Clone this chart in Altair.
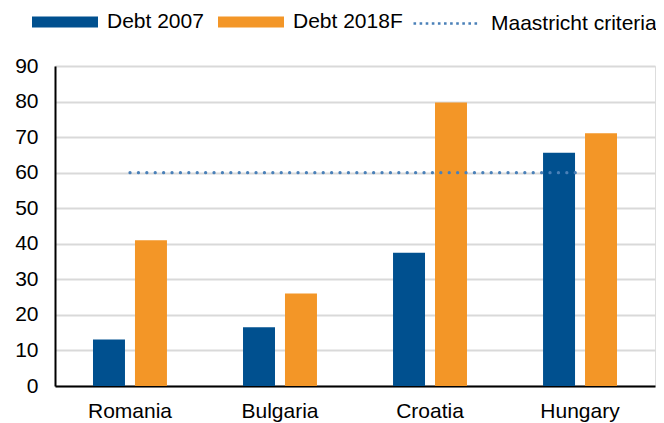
import altair as alt
import pandas as pd

countries = ["Romania", "Bulgaria", "Croatia", "Hungary"]
debt_2007 = [13.1, 16.5, 37.5, 65.6]
debt_2018f = [41.0, 26.0, 79.7, 71.1]
maastricht = [60, 60, 60, 60]
series_names = ["Debt 2007", "Debt 2018F"]
line_name = "Maastricht criteria"
y_ticks = [0, 10, 20, 30, 40, 50, 60, 70, 80, 90]

bars_df = pd.DataFrame(
    [{"Country": c, "Series": series_names[0], "Value": v} for c, v in zip(countries, debt_2007)]
    + [{"Country": c, "Series": series_names[1], "Value": v} for c, v in zip(countries, debt_2018f)]
)
line_df = pd.DataFrame({"Country": countries, "Value": maastricht, "Label": [line_name] * len(countries)})

FONT = "Liberation Sans"


def x_enc():
    return alt.X(
        "Country:N",
        sort=countries,
        scale=alt.Scale(paddingInner=0.507, paddingOuter=0.2533),
        axis=alt.Axis(
            title=None, labelAngle=0, domainColor="#000000", domainWidth=2,
            ticks=False, labelPadding=14, labelFontSize=21, labelFont=FONT,
            labelColor="#000000",
        ),
    )


def y_enc():
    return alt.Y(
        "Value:Q",
        scale=alt.Scale(domain=[0, 90], nice=False),
        axis=alt.Axis(
            title=None, values=y_ticks, labelOverlap=False, domainColor="#000000", domainWidth=2,
            ticks=False, labelPadding=17, labelFontSize=21, labelFont=FONT,
            labelColor="#000000", gridColor="#d9d9d9", gridWidth=2,
        ),
    )


bars = alt.Chart(bars_df).mark_bar().encode(
    x=x_enc(),
    xOffset=alt.XOffset("Series:N", sort=series_names, scale=alt.Scale(paddingInner=0.238, paddingOuter=0)),
    y=y_enc(),
    color=alt.Color(
        "Series:N", sort=series_names,
        scale=alt.Scale(domain=series_names, range=["#00508F", "#F39627"]),
        legend=alt.Legend(
            title=None, orient="none", legendX=-1, legendY=-55, direction="horizontal",
            symbolType="M-3,-0.5H3V0.5H-3Z", symbolSize=484, symbolStrokeWidth=0,
            labelOffset=31, columnPadding=14, labelFontSize=21, labelFont=FONT,
            labelColor="#000000", labelLimit=400, padding=0,
        ),
    ),
)

line = alt.Chart(line_df).mark_line(strokeDash=[0.1, 8.3], strokeCap="round", strokeWidth=3.2).encode(
    x=x_enc(),
    y=y_enc(),
    stroke=alt.Stroke(
        "Label:N",
        scale=alt.Scale(domain=[line_name], range=["#4A80B8"]),
        legend=alt.Legend(
            title=None, orient="none", legendX=379, legendY=-55, direction="horizontal",
            symbolType="M-3,0H3", symbolSize=484, symbolStrokeWidth=2.6,
            symbolDash=[2.6, 3.5], labelOffset=32, labelFontSize=21, labelFont=FONT,
            labelColor="#000000", labelLimit=400, padding=0,
        ),
    ),
)

chart = (
    alt.layer(bars, line)
    .resolve_scale(color="independent")
    .properties(
        width=600, height=320,
        autosize=alt.AutoSizeParams(type="none"),
        padding={"left": 47, "top": 58, "right": 1, "bottom": 45},
    )
    .configure_view(stroke=None)
    .configure(background="#ffffff")
)

chart.save("out.html", embed_options={"renderer": "svg", "actions": False})
